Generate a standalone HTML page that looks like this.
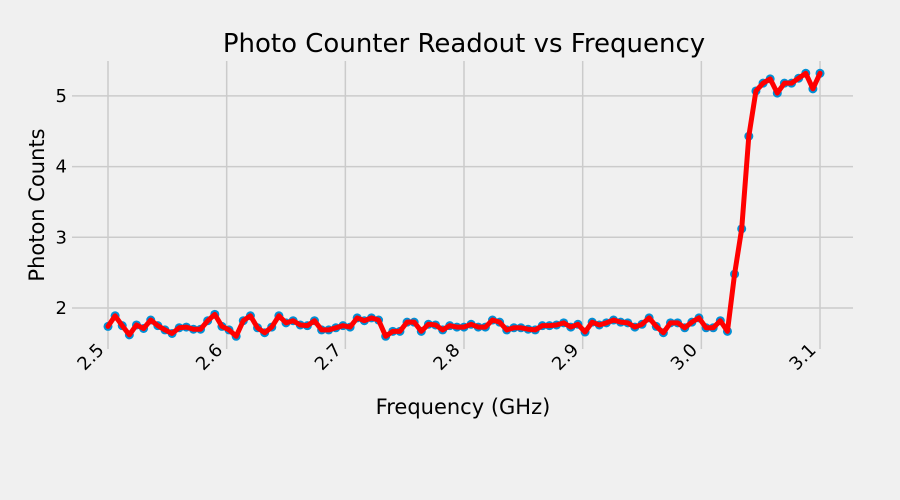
<!DOCTYPE html>
<html><head><meta charset="utf-8"><style>
body{margin:0;background:#f0f0f0;}
svg{display:block;font-family:"DejaVu Sans","Liberation Sans",sans-serif;}
</style></head><body>
<svg id="chart" width="900" height="500">
<rect width="900" height="500" fill="#f0f0f0"/>
<g id="grid"></g><g id="marks"></g><g id="labels"></g>
<text x="464" y="52" font-size="26" text-anchor="middle" fill="#000">Photo Counter Readout vs Frequency</text>
<text x="463" y="414" font-size="21" text-anchor="middle" fill="#000">Frequency (GHz)</text>
<text transform="translate(44,205) rotate(-90)" font-size="21" text-anchor="middle" fill="#000">Photon Counts</text>
</svg>
<script>
const counts=[1.74,1.89,1.75,1.62,1.76,1.71,1.83,1.75,1.69,1.64,1.72,1.73,1.70,1.70,1.82,1.91,1.74,1.69,1.60,1.82,1.89,1.72,1.65,1.73,1.89,1.79,1.82,1.76,1.75,1.82,1.69,1.69,1.72,1.75,1.73,1.86,1.82,1.86,1.83,1.60,1.67,1.67,1.80,1.80,1.67,1.77,1.76,1.69,1.75,1.73,1.73,1.77,1.73,1.73,1.83,1.80,1.69,1.72,1.72,1.70,1.69,1.75,1.75,1.76,1.79,1.73,1.77,1.66,1.80,1.76,1.79,1.83,1.80,1.79,1.73,1.77,1.86,1.74,1.65,1.79,1.79,1.72,1.80,1.86,1.72,1.72,1.82,1.67,2.48,3.12,4.43,5.07,5.18,5.24,5.04,5.18,5.18,5.25,5.32,5.10,5.32];
const xStart=2.5, xEnd=3.1;
const xTicks=[2.5,2.6,2.7,2.8,2.9,3.0,3.1];
const yTicks=[2,3,4,5];
const NS="http://www.w3.org/2000/svg";
function xs(v){return 108+(v-2.5)*1186.7;}
function ys(v){return 308-(v-2)*70.7;}
function el(t,a,p){const e=document.createElementNS(NS,t);for(const k in a)e.setAttribute(k,a[k]);p.appendChild(e);return e;}
const grid=document.getElementById('grid'),marks=document.getElementById('marks'),labels=document.getElementById('labels');
xTicks.forEach(t=>{
 const l=el('line',{x1:xs(t),x2:xs(t),y1:61,y2:349,stroke:'#cbcbcb','stroke-width':1.5},grid);
 
 
 const tx=el('text',{x:0,y:0,'font-size':18,'text-anchor':'end',fill:'#000',transform:`translate(${xs(t)-3},${351}) rotate(-45)`},labels);
 tx.textContent=t.toFixed(1);
 
 
});
yTicks.forEach(t=>{
 const l=el('line',{x1:72,x2:853,y1:ys(t),y2:ys(t),stroke:'#cbcbcb','stroke-width':1.5},grid);
 
 
 const tx=el('text',{x:67,y:ys(t)+6,'font-size':18,'text-anchor':'end',fill:'#000'},labels);
 tx.textContent=t;
 
 
});
const n=counts.length;
const freq=counts.map((_,i)=>xStart+(xEnd-xStart)*i/(n-1));
counts.forEach((v,i)=>{
 const c=el('circle',{cx:xs(freq[i]),cy:ys(v),r:4.5,fill:'#008fd5'},marks);
 
 
});
const pl=el('polyline',{points:counts.map((v,i)=>xs(freq[i])+','+ys(v)).join(' '),fill:'none',stroke:'#ff0000','stroke-width':5,'stroke-linejoin':'round','stroke-linecap':'round'},marks);


</script>
</body></html>
